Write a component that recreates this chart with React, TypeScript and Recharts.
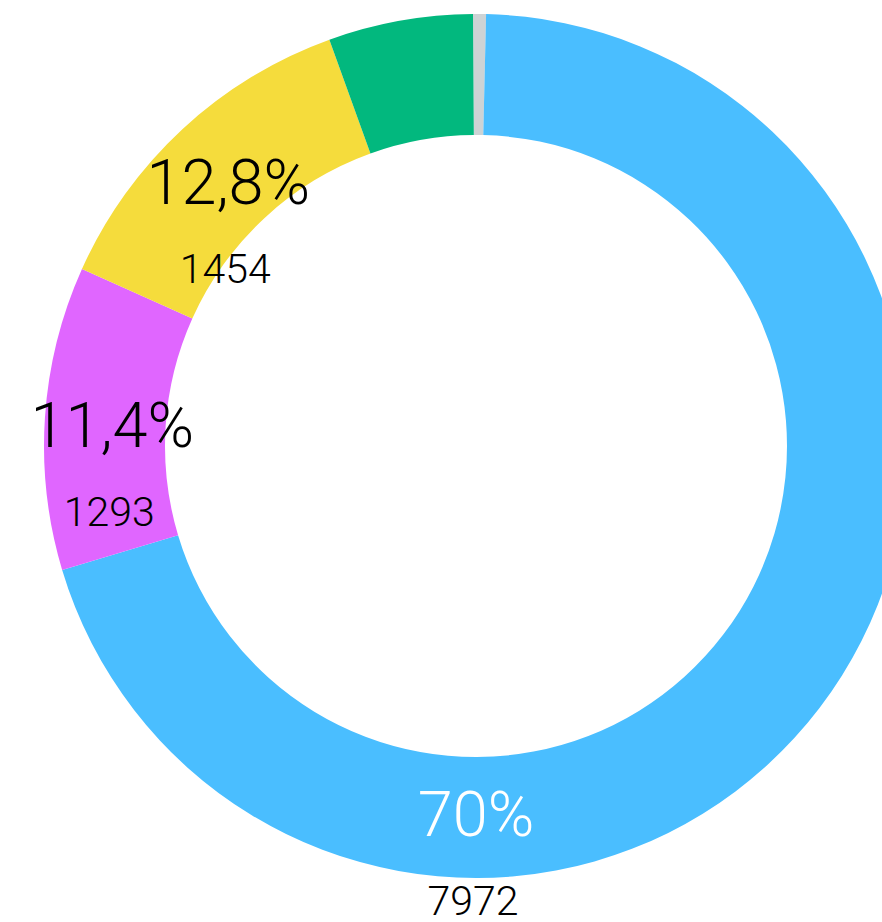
import { Cell, Pie, PieChart } from "recharts";

// Segments in drawing order, clockwise from twelve o'clock
const segments = ["gris", "bleu", "magenta", "jaune", "vert"];
const counts = [55, 7972, 1293, 1454, 615];
const colors = ["#CDD3D5", "#4ABEFF", "#E066FF", "#F5DC3C", "#02B87E"];

const data = segments.map((name, i) => ({ name, value: counts[i] }));

const RADIAN = Math.PI / 180;
const FONT = "Roboto, 'Noto Sans', sans-serif";

function formatPercent(p: number) {
  const s = (p * 100).toFixed(1).replace(/\.0$/, "");
  return s.replace(".", ",") + "%";
}

function renderLabel(props: any) {
  const { cx, cy, midAngle, innerRadius, outerRadius, percent, value, index } = props;
  // small slices stay unlabelled
  if (percent < 0.08) return null;
  // the dominant slice carries its label at six o'clock
  const angle = percent > 0.5 ? -90 : midAngle;
  const r = (innerRadius + outerRadius) / 2 - 7;
  const x = cx + r * Math.cos(-angle * RADIAN);
  const y = cy + r * Math.sin(-angle * RADIAN) + 3;
  return (
    <g key={`label-${index}`} fontFamily={FONT} fontWeight={300}>
      <text
        x={x}
        y={y + 22}
        textAnchor="middle"
        fontSize={63}
        fill={percent > 0.5 ? "#ffffff" : "#000000"}
      >
        {formatPercent(percent)}
      </text>
      <text x={x - 3} y={y + 86 + 15} textAnchor="middle" fontSize={41} fill="#000000">
        {value}
      </text>
    </g>
  );
}

export default function App() {
  return (
    <div
      style={{
        position: "fixed",
        top: 0,
        left: 0,
        width: 882,
        height: 922,
        overflow: "hidden",
        background: "#ffffff",
      }}
    >
      <PieChart width={882} height={922} margin={{ top: 0, right: 0, bottom: 0, left: 0 }}>
        <Pie
          data={data}
          dataKey="value"
          nameKey="name"
          cx={476}
          cy={446}
          innerRadius={311}
          outerRadius={432}
          startAngle={90.4}
          endAngle={-269.6}
          stroke="none"
          label={renderLabel}
          labelLine={false}
          isAnimationActive={false}
        >
          {data.map((d, i) => (
            <Cell key={d.name} fill={colors[i]} />
          ))}
        </Pie>
      </PieChart>
    </div>
  );
}
